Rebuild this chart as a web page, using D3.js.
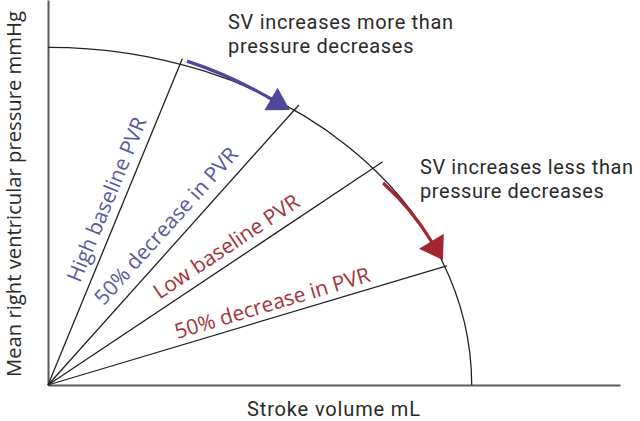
<!DOCTYPE html>
<html>
<head>
<meta charset="utf-8">
<script src="https://cdn.jsdelivr.net/npm/d3@7"></script>
<style>
  html, body { margin: 0; padding: 0; background: #fff; }
  svg { display: block; }
</style>
</head>
<body>
<svg id="chart" width="640" height="421"></svg>
<script>
// ---------------- data ----------------
const svDomain = [0, 135];          // stroke volume axis extent (arbitrary units)
const pDomain = [0, 114];           // pressure axis extent (arbitrary units)
const curveRadius = 100;            // RV function curve (quarter circle in data units)

const lineLabels = ["High baseline PVR", "50% decrease in PVR", "Low baseline PVR", "50% decrease in PVR"];
const lineEndSV = [31.7, 59.2, 79.0, 94.1];
const lineEndP  = [96.6, 82.9, 66.1, 35.3];
const lineGroup = ["high", "high", "low", "low"];

const arrowStartSV = [32.8, 79.1];
const arrowStartP  = [95.9, 59.8];
const arrowEndSV   = [57.1, 93.2];
const arrowEndP    = [81.4, 37.0];
const arrowGroup   = ["high", "low"];

const noteLines = [["SV increases more than", "pressure decreases"],
                   ["SV increases less than", "pressure decreases"]];
const noteSV = [42.5, 87.8];
const noteP  = [105.4, 62.5];

const xTitle = "Stroke volume mL";
const yTitle = "Mean right ventricular pressure mmHg";

// ---------------- layout ----------------
const colors = { high: "#4f4799", low: "#a3262e" };
const labelColors = { high: "#5a56a3", low: "#a5313a" };
const labelStart  = [106, 96, 140, 137];   // px along each line
const labelOffset = [9, 11, 9, 7];          // px perpendicular to each line
const arrowBend = [5.0, 5.5];
const arrowHead = [[22, 13], [22, 14.5]];   // [length, half-width]

const svg = d3.select("#chart");
const x = d3.scaleLinear().domain(svDomain).range([48, 620]);
const y = d3.scaleLinear().domain(pDomain).range([385, 0]);

// axes (no ticks)
const xAxis = d3.axisBottom(x).tickValues([]).tickSizeOuter(0);
const yAxis = d3.axisLeft(y).tickValues([]).tickSizeOuter(0);
svg.append("g").attr("transform", `translate(0,${y(0)})`).call(xAxis)
   .select(".domain").attr("stroke", "#5a5a5a").attr("stroke-width", 2);
svg.append("g").attr("transform", `translate(${x(0)},0)`).call(yAxis)
   .select(".domain").attr("stroke", "#5a5a5a").attr("stroke-width", 2);

// function curve: quarter ellipse through scales
const rx = x(curveRadius) - x(0), ry = y(0) - y(curveRadius);
svg.append("path")
  .attr("d", `M${x(0)},${y(curveRadius)} A${rx},${ry} 0 0 1 ${x(curveRadius)},${y(0)}`)
  .attr("fill", "none").attr("stroke", "#222").attr("stroke-width", 1.3);

// PVR lines
const O = [x(0), y(0)];
lineLabels.forEach((lab, i) => {
  const E = [x(lineEndSV[i]), y(lineEndP[i])];
  svg.append("line")
    .attr("x1", O[0]).attr("y1", O[1]).attr("x2", E[0]).attr("y2", E[1])
    .attr("stroke", "#222").attr("stroke-width", 1.3);
  const dx = E[0] - O[0], dy = E[1] - O[1], len = Math.hypot(dx, dy);
  const u = [dx / len, dy / len], n = [u[1], -u[0]];
  const px = O[0] + u[0] * labelStart[i] + n[0] * labelOffset[i];
  const py = O[1] + u[1] * labelStart[i] + n[1] * labelOffset[i];
  const ang = Math.atan2(dy, dx) * 180 / Math.PI;
  svg.append("text")
    .attr("transform", `translate(${px},${py}) rotate(${ang})`)
    .attr("font-family", "'Open Sans', sans-serif")
    .attr("font-size", 21)
    .attr("fill", labelColors[lineGroup[i]])
    .text(lab);
});

// curved arrows
arrowGroup.forEach((g, i) => {
  const S = [x(arrowStartSV[i]), y(arrowStartP[i])];
  const T = [x(arrowEndSV[i]), y(arrowEndP[i])];
  const cx = T[0] - S[0], cy = T[1] - S[1], cl = Math.hypot(cx, cy);
  const nrm = [cy / cl, -cx / cl];
  const C = [(S[0] + T[0]) / 2 + nrm[0] * arrowBend[i], (S[1] + T[1]) / 2 + nrm[1] * arrowBend[i]];
  const tx = T[0] - C[0], ty = T[1] - C[1], tl = Math.hypot(tx, ty);
  const d = [tx / tl, ty / tl], pn = [-d[1], d[0]];
  const L = arrowHead[i][0], W = arrowHead[i][1];
  const B = [T[0] - d[0] * L, T[1] - d[1] * L];
  const C2 = [C[0] - d[0] * L * 0.5, C[1] - d[1] * L * 0.5];
  svg.append("path")
    .attr("d", `M${S[0]},${S[1]} Q${C2[0]},${C2[1]} ${B[0] + d[0]*2},${B[1] + d[1]*2}`)
    .attr("fill", "none").attr("stroke", colors[g]).attr("stroke-width", 3.2);
  svg.append("path")
    .attr("d", `M${T[0]},${T[1]} L${B[0] + pn[0] * W},${B[1] + pn[1] * W} L${B[0] - pn[0] * W},${B[1] - pn[1] * W} Z`)
    .attr("fill", colors[g]);
});

// fit helper: letter-spacing so a text reaches a target width
function fitSpacing(sel, target) {
  const w = sel.node().getComputedTextLength();
  const nch = sel.text().length;
  const ls = nch > 1 ? (target - w) / (nch - 1) : 0;
  sel.attr("letter-spacing", ls);
  return ls;
}

// annotations
const noteTarget = [225, 213];
noteLines.forEach((lines, i) => {
  let ls = 0;
  lines.forEach((s, j) => {
    const t = svg.append("text")
      .attr("x", x(noteSV[i])).attr("y", y(noteP[i]) + j * 24)
      .attr("font-family", "Roboto, sans-serif")
      .attr("font-size", 20)
      .attr("fill", "#2a2a2a")
      .text(s);
    if (j === 0) ls = fitSpacing(t, noteTarget[i]);
    else t.attr("letter-spacing", ls);
  });
});

// axis titles
const xt = svg.append("text")
  .attr("x", 247).attr("y", 416)
  .attr("font-family", "Roboto, sans-serif")
  .attr("font-size", 20)
  .attr("fill", "#2a2a2a")
  .text(xTitle);
fitSpacing(xt, 173);

const yt = svg.append("text")
  .attr("transform", "translate(21,194) rotate(-90)")
  .attr("text-anchor", "middle")
  .attr("font-family", "'Open Sans', sans-serif")
  .attr("font-size", 20)
  .attr("fill", "#2a2a2a")
  .text(yTitle);
const yw = yt.node().getComputedTextLength();
yt.attr("font-size", 19.5 * 366 / yw * (20 / 19.5));
</script>
</body>
</html>
